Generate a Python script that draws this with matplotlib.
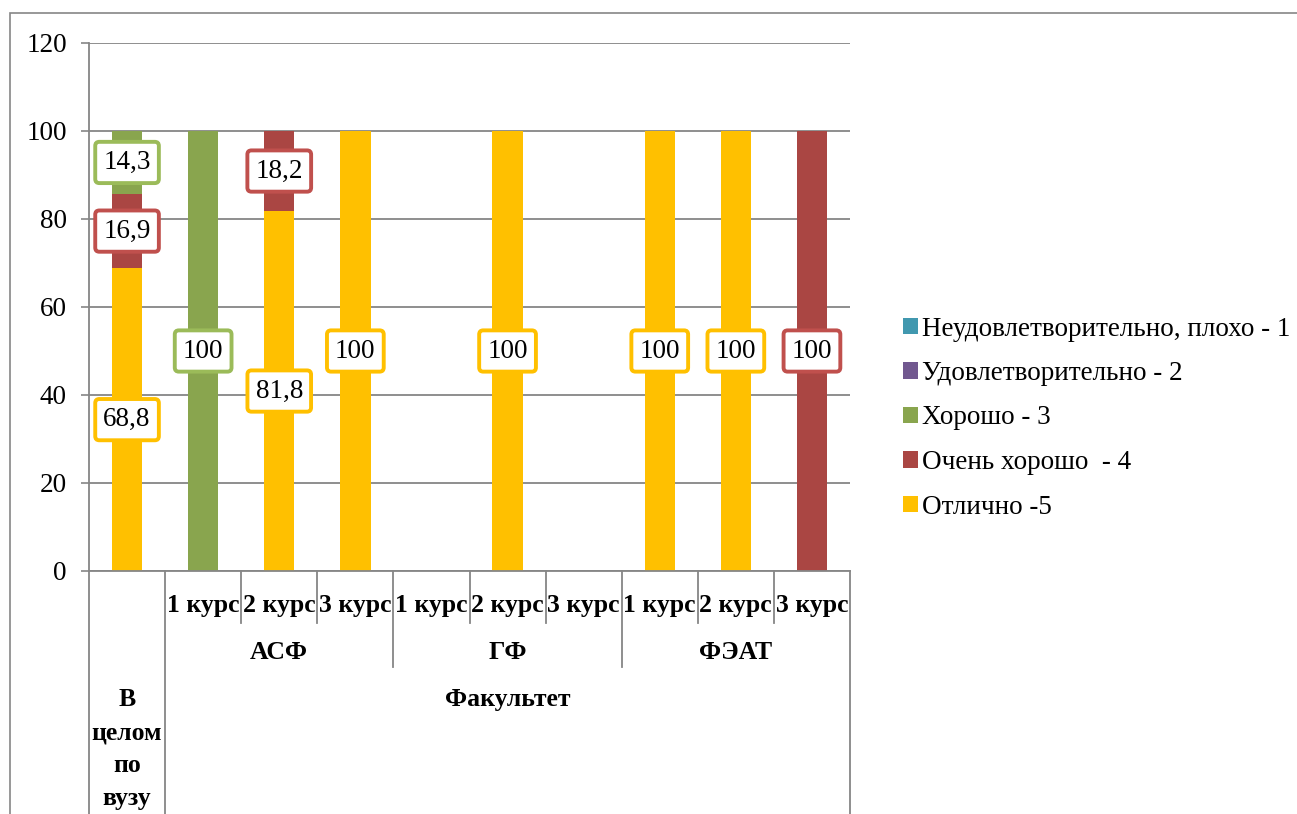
import numpy as np
import matplotlib
matplotlib.use('Agg')
import matplotlib.pyplot as plt
from matplotlib.patches import Patch, Rectangle

plt.rcParams['font.family'] = ['Liberation Serif', 'DejaVu Serif']

# categories (bottom level -> courses, middle -> faculties)
courses = ['', '1 курс', '2 курс', '3 курс', '1 курс', '2 курс', '3 курс', '1 курс', '2 курс', '3 курс']
faculties = ['АСФ', 'ГФ', 'ФЭАТ']
overall_label = 'В\nцелом\nпо\nвузу'
top_label = 'Факультет'

# series, stacked bottom to top
otlichno = [68.8, 0, 81.8, 100, 0, 100, 0, 100, 100, 0]
ochen_horosho = [16.9, 0, 18.2, 0, 0, 0, 0, 0, 0, 100]
horosho = [14.3, 100, 0, 0, 0, 0, 0, 0, 0, 0]
udovl = [0, 0, 0, 0, 0, 0, 0, 0, 0, 0]
neudovl = [0, 0, 0, 0, 0, 0, 0, 0, 0, 0]

series = [
    ('Отлично -5', otlichno, '#FFC000', '#FFC000'),
    ('Очень хорошо  - 4', ochen_horosho, '#AA4643', '#C0504D'),
    ('Хорошо - 3', horosho, '#89A54E', '#9BBB59'),
    ('Удовлетворительно - 2', udovl, '#71588F', '#8064A2'),
    ('Неудовлетворительно, плохо - 1', neudovl, '#4198AF', '#4BACC6'),
]

def fmt(v):
    if float(v).is_integer():
        return str(int(v))
    return ('%.1f' % v).replace('.', ',')

fig = plt.figure(figsize=(12.97, 8.14), dpi=100)
ax = fig.add_axes([89/1297, 243/814, 761/1297, 528/814])

x = np.arange(len(courses))
bottom = np.zeros(len(courses))
for name, vals, col, edge in series:
    vals = np.array(vals, dtype=float)
    ax.bar(x, vals, 0.4, bottom=bottom, color=col, zorder=2)
    for xi, b, v in zip(x, bottom, vals):
        if v > 0:
            ax.text(xi, b + v / 2, fmt(v), ha='center', va='center', fontsize=19.5, zorder=4,
                    bbox=dict(boxstyle='round,pad=0.3,rounding_size=0.15', fc='white', ec=edge, lw=2.8))
    bottom += vals

grid_col = '#868686'
ax.set_xlim(-0.5, 9.5)
ax.set_ylim(0, 120)
ax.set_yticks(np.arange(0, 121, 20))
ax.yaxis.grid(True, color=grid_col, lw=1.3, zorder=0)
ax.set_axisbelow(True)
ax.tick_params(axis='y', length=6, width=1.2, color=grid_col, pad=10, labelsize=19.5)
ax.set_xticks([])
for s in ['top', 'right']:
    ax.spines[s].set_visible(False)
for s in ['left', 'bottom']:
    ax.spines[s].set_color(grid_col)
    ax.spines[s].set_linewidth(1.3)

# multi-level category axis
tr = ax.get_xaxis_transform()
y_short, y_group, y_full = -0.0985, -0.182, -0.47
for i in range(len(courses) + 1):
    bx = i - 0.5
    if i in (0, 1, len(courses)):
        y_end = y_full
    elif i in (4, 7):
        y_end = y_group
    else:
        y_end = y_short
    ax.plot([bx, bx], [0, y_end], transform=tr, color=grid_col, lw=1.3, clip_on=False)

for xi, c in zip(x, courses):
    if c:
        ax.text(xi, -0.065, c, transform=tr, ha='center', va='center', fontsize=18.5, fontweight='bold')
for j, f in enumerate(faculties):
    ax.text(2 + 3 * j, -0.154, f, transform=tr, ha='center', va='center', fontsize=18.5, fontweight='bold')
ax.text(5, -0.244, top_label, transform=tr, ha='center', va='center', fontsize=18.5, fontweight='bold')
ax.text(0, -0.222, overall_label, transform=tr, ha='center', va='top', fontsize=18.5, fontweight='bold',
        linespacing=1.55)

# legend (reversed order like Excel)
handles = [Patch(facecolor=col, edgecolor='none') for name, vals, col, edge in series[::-1]]
labels = [name for name, vals, col, edge in series[::-1]]
fig.legend(handles, labels, loc='center left', bbox_to_anchor=(892/1297, (814-418)/814),
           frameon=False, fontsize=19.5, handlelength=0.55, handleheight=0.55, handletextpad=0.15,
           labelspacing=0.72, borderaxespad=0)

# outer chart border
fig.add_artist(Rectangle((10/1297, -0.05), 1.2, 1.05 - 13/814, transform=fig.transFigure,
                         fill=False, ec=grid_col, lw=1.2))

fig.savefig('out.png', dpi=100)
